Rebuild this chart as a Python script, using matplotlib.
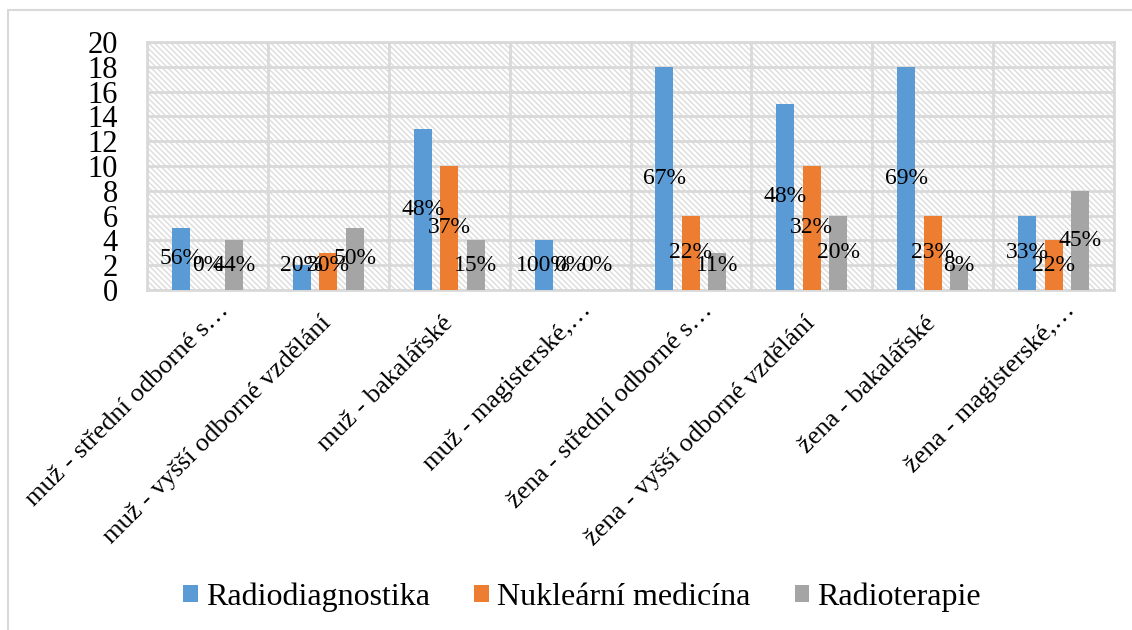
import matplotlib
matplotlib.use("Agg")
import matplotlib.pyplot as plt
import numpy as np
from matplotlib.patches import Rectangle
from matplotlib.transforms import offset_copy

categories = [
    "muž - střední odborné s…",
    "muž - vyšší odborné vzdělání",
    "muž - bakalářské",
    "muž - magisterské,…",
    "žena - střední odborné s…",
    "žena - vyšší odborné vzdělání",
    "žena - bakalářské",
    "žena - magisterské,…",
]
series_names = ["Radiodiagnostika", "Nukleární medicína", "Radioterapie"]
radiodiagnostika = [5, 2, 13, 4, 18, 15, 18, 6]
nuklearni = [0, 3, 10, 0, 6, 10, 6, 4]
radioterapie = [4, 5, 4, 0, 3, 6, 2, 8]
pct_radiodiagnostika = ["56%", "20%", "48%", "100%", "67%", "48%", "69%", "33%"]
pct_nuklearni = ["0%", "30%", "37%", "0%", "22%", "32%", "23%", "22%"]
pct_radioterapie = ["44%", "50%", "15%", "0%", "11%", "20%", "8%", "45%"]
yticks = [0, 2, 4, 6, 8, 10, 12, 14, 16, 18, 20]

colors = ["#5B9BD5", "#ED7D31", "#A5A5A5"]
grid_col = "#D9D9D9"
label_dx = [18, 0, 0, 18, 18, 0, 0, 18]          # style offsets (px)
label_dy = [-17, -30, -30, -17, -17, -30, -30, -17]

plt.rcParams["font.family"] = ["Liberation Serif", "DejaVu Serif"]
plt.rcParams["hatch.linewidth"] = 1.0
plt.rcParams["hatch.color"] = "#DCDCDC"

W, H = 1132, 630
fig = plt.figure(figsize=(W / 100, H / 100), dpi=100)
fig.patches.append(Rectangle((8 / W, -0.1), 1.2, 1 - 10 / H + 0.1, transform=fig.transFigure,
                             fill=False, edgecolor=grid_col, linewidth=1.5))
L, R, T, B = 147, 1114, 42, 290
ax = fig.add_axes([L / W, 1 - B / H, (R - L) / W, (B - T) / H])
ax.set_facecolor("white")
ax.add_patch(Rectangle((0, 0), 1, 1, transform=ax.transAxes, facecolor="white",
                       edgecolor="#DCDCDC", hatch="\\\\\\\\\\\\", linewidth=0, zorder=0))

n = len(categories)
x = np.arange(n)
bw = 0.149
step = 0.219
series = [radiodiagnostika, nuklearni, radioterapie]
pcts = [pct_radiodiagnostika, pct_nuklearni, pct_radioterapie]
for i, (vals, col, name, pl) in enumerate(zip(series, colors, series_names, pcts)):
    xs = x + (i - 1) * step
    ax.bar(xs, vals, width=bw, color=col, label=name, zorder=3)
    for xi, v, p in zip(xs, vals, pl):
        ax.text(xi, max(v / 2, 2.0), p, ha="center", va="center", fontsize=17, zorder=5)

ax.set_xlim(-0.5, n - 0.5)
ax.set_ylim(0, 20)
ax.set_yticks(yticks)
ax.set_yticklabels([str(t) for t in yticks], fontsize=22)
ax.tick_params(axis="y", length=0, pad=21)
ax.tick_params(axis="x", length=0)
ax.set_xticks([])
for yv in yticks:
    ax.axhline(yv, color=grid_col, linewidth=2, zorder=1)
for xv in np.arange(-0.5, n, 1.0):
    ax.axvline(xv, color=grid_col, linewidth=2, zorder=1)
for s in ax.spines.values():
    s.set_color(grid_col)
    s.set_linewidth(2)

for i, (c, dx, dy) in enumerate(zip(categories, label_dx, label_dy)):
    tr = offset_copy(ax.get_xaxis_transform(), fig=fig, x=dx * 0.72, y=dy * 0.72, units="points")
    ax.text(i, 0, c, transform=tr, rotation=45, rotation_mode="anchor",
            ha="right", va="center", fontsize=19)

handles, labels = ax.get_legend_handles_labels()
fig.legend(handles, labels, loc="center", bbox_to_anchor=(582 / W, 1 - 597 / H), ncol=3,
           frameon=False, fontsize=23, handlelength=0.45, handleheight=0.45,
           handletextpad=0.25, columnspacing=1.4)

fig.savefig("out.png", dpi=100)
